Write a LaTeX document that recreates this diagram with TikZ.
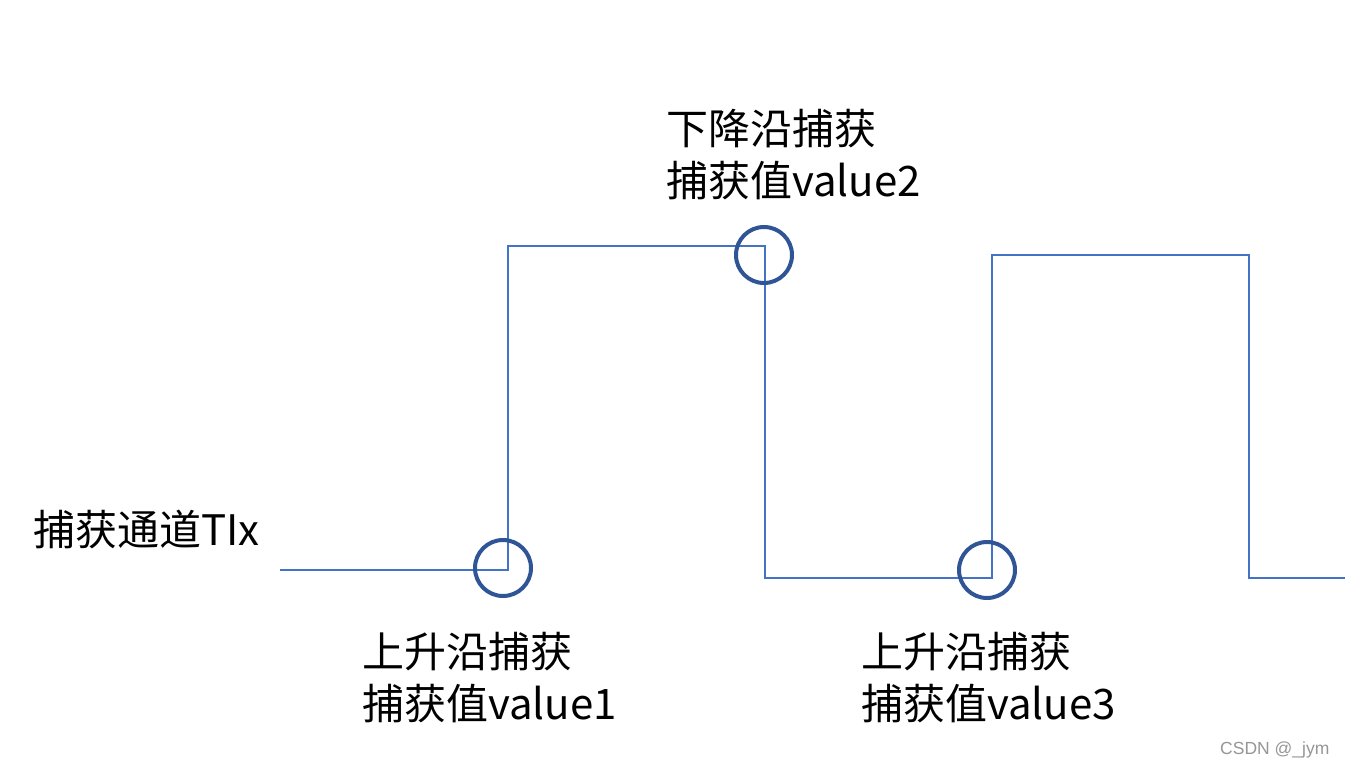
\documentclass[tikz,border=0pt]{standalone}
\usepackage{fontspec}
\setmainfont{Liberation Sans}
\newfontfamily\cjk{Noto Sans CJK SC}
\begin{document}
\begin{tikzpicture}[x=1pt,y=-1pt,
  wave/.style={draw={rgb,255:red,68;green,114;blue,196},line width=2pt,line join=miter},
  mark circle/.style={draw={rgb,255:red,47;green,85;blue,151},line width=4pt},
  lbl/.style={anchor=base west,inner sep=0pt,font=\cjk\fontsize{42}{50}\selectfont},
  wm/.style={anchor=base west,inner sep=0pt,text={rgb,255:red,150;green,150;blue,150},font=\fontsize{17.5}{20}\selectfont}]
\useasboundingbox (0,0) rectangle (1345,768);
\fill[white] (0,0) rectangle (1345,768);
% waveform
\coordinate (w0) at (280,570);
\coordinate (w1) at (508,570);
\coordinate (w2) at (508,246);
\coordinate (w3) at (765,246);
\coordinate (w4) at (765,578);
\coordinate (w5) at (992,578);
\coordinate (w6) at (992,255);
\coordinate (w7) at (1249,255);
\coordinate (w8) at (1249,578);
\coordinate (w9) at (1346,578);
\draw[wave] (w0) -- (w1) -- (w2) -- (w3) -- (w4) -- (w5) -- (w6) -- (w7) -- (w8) -- (w9);
% circles
\node[mark circle,circle,minimum size=56pt,inner sep=0pt] (c1) at (503,568) {};
\node[mark circle,circle,minimum size=56pt,inner sep=0pt] (c2) at (764,255) {};
\node[mark circle,circle,minimum size=56pt,inner sep=0pt] (c3) at (987,570) {};
% labels
\node[lbl] (ch) at (33,545) {捕获通道TIx};
\node[lbl] (r1a) at (362,667) {上升沿捕获};
\node[lbl] (r1b) at (362,719) {捕获值value1};
\node[lbl] (f2a) at (666,144) {下降沿捕获};
\node[lbl] (f2b) at (666,196) {捕获值value2};
\node[lbl] (r3a) at (861,667) {上升沿捕获};
\node[lbl] (r3b) at (861,719) {捕获值value3};
\node[wm] (wmk) at (1220,754) {CSDN @\_jym};
\end{tikzpicture}
\end{document}
